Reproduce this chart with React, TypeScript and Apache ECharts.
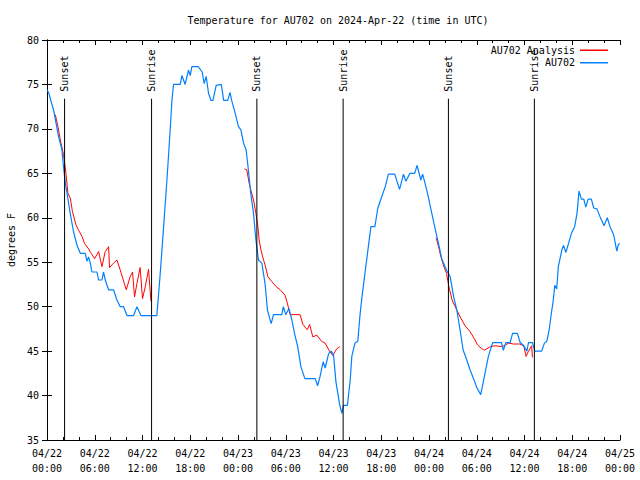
import React, { useEffect, useRef } from "react";
import * as echarts from "echarts";

// Hours since 2024-04-22 00:00 UTC and temperatures (F)
const obsHours = [0.0, 0.2, 0.83, 1.46, 1.88, 2.08, 2.3, 2.51, 2.92, 3.34, 3.77, 4.18, 4.81, 5.02, 5.22, 5.44, 5.65, 6.28, 6.48, 6.9, 7.1, 7.32, 7.74, 8.36, 8.79, 9.2, 9.62, 10.05, 10.88, 11.3, 11.8, 13.8, 14.2, 14.6, 15.07, 15.48, 15.7, 15.9, 16.74, 16.95, 17.36, 17.78, 18.0, 18.2, 19.0, 19.5, 19.75, 20.0, 20.3, 20.6, 20.85, 21.26, 21.9, 22.2, 22.7, 23.0, 23.2, 23.65, 24.06, 24.36, 24.7, 25.03, 25.3, 25.6, 25.95, 26.25, 26.57, 27.0, 27.4, 27.7, 28.17, 28.46, 29.5, 29.7, 30.0, 30.4, 30.77, 31.1, 31.5, 31.9, 32.4, 33.7, 34.0, 34.3, 34.7, 34.95, 35.4, 35.7, 36.0, 36.3, 36.75, 37.05, 37.25, 37.75, 38.1, 38.3, 38.7, 39.05, 39.35, 39.63, 40.06, 40.4, 40.7, 41.2, 41.57, 42.07, 42.5, 42.9, 43.7, 44.3, 44.8, 45.1, 45.6, 46.2, 46.5, 46.97, 47.2, 47.5, 47.9, 48.35, 48.76, 49.2, 49.6, 50.2, 50.65, 51.1, 51.5, 51.9, 52.3, 52.75, 53.15, 53.6, 54.0, 54.5, 54.95, 55.46, 56.0, 57.1, 57.35, 57.65, 58.2, 58.5, 59.1, 59.44, 59.9, 60.3, 60.5, 61.0, 61.3, 62.16, 62.5, 62.8, 63.1, 63.4, 63.6, 63.8, 64.05, 64.25, 64.7, 64.9, 65.2, 65.5, 65.9, 66.3, 66.6, 66.85, 67.15, 67.45, 67.7, 68.0, 68.4, 68.7, 69.1, 69.5, 70.0, 70.4, 70.75, 71.2, 71.6, 71.8, 72.0];
const obsTemps = [74.4, 74.1, 72.1, 69.1, 67.6, 65.7, 63.9, 62.8, 60.5, 58.4, 56.9, 56.0, 56.0, 55.1, 55.6, 54.9, 53.9, 53.9, 53.0, 53.0, 53.9, 53.0, 51.9, 51.9, 50.75, 50.0, 50.0, 49.0, 49.0, 50.0, 49.0, 49.0, 53.4, 58.3, 64.25, 69.9, 73.25, 75.0, 75.0, 76.0, 75.0, 76.6, 76.0, 77.0, 77.0, 76.4, 75.1, 75.9, 74.0, 73.2, 73.2, 74.9, 75.0, 73.2, 73.2, 74.1, 73.2, 71.75, 70.25, 69.9, 68.4, 67.6, 65.4, 62.75, 60.5, 57.5, 55.25, 54.9, 52.6, 49.6, 48.1, 49.1, 49.1, 50.0, 49.1, 49.8, 48.5, 47.0, 45.5, 43.25, 41.9, 41.9, 41.1, 42.1, 43.8, 43.1, 44.75, 45.0, 44.6, 41.6, 39.1, 38.0, 38.9, 38.9, 41.75, 44.4, 45.9, 46.1, 49.25, 51.5, 54.5, 56.9, 59.0, 59.0, 61.1, 62.4, 63.5, 64.9, 64.9, 63.2, 64.9, 64.1, 65.0, 65.0, 65.9, 64.25, 64.9, 63.9, 62.4, 60.5, 58.8, 57.1, 55.4, 54.1, 53.4, 51.1, 49.6, 47.4, 45.1, 44.0, 42.9, 41.9, 40.9, 40.1, 42.1, 44.4, 45.95, 45.95, 45.1, 45.95, 45.95, 47.0, 47.0, 46.0, 45.6, 45.0, 45.95, 45.95, 45.0, 45.0, 45.9, 46.1, 47.4, 49.4, 50.6, 52.4, 52.0, 54.5, 56.4, 56.9, 56.1, 57.0, 58.25, 59.0, 60.5, 63.0, 62.1, 62.1, 61.2, 62.1, 62.1, 61.1, 61.0, 60.1, 59.1, 60.0, 59.0, 58.1, 56.25, 57.0, 57.1];

// Analysis series (null = gap)
const anaHours = [1.04, 1.38, 1.67, 2.08, 2.38, 2.63, 2.93, 3.2, 3.64, 3.97, 4.4, 4.72, 5.15, 5.56, 5.98, 6.48, 6.9, 7.32, 7.74, 7.86, 8.36, 8.79, 9.33, 9.96, 10.46, 10.75, 11.0, 11.3, 11.7, 12.0, 12.35, 12.76, 13.06, 18.0, 24.8, 25.1, 25.4, 25.65, 25.95, 26.25, 26.5, 26.66, 26.88, 27.1, 27.4, 27.75, 28.26, 28.8, 29.3, 29.9, 30.2, 30.55, 31.8, 32.15, 32.7, 33.0, 33.4, 33.9, 34.5, 34.95, 35.5, 35.9, 36.4, 36.8, 42.0, 48.9, 49.2, 49.5, 49.8, 50.2, 50.5, 50.9, 51.5, 52.0, 52.5, 53.15, 53.7, 54.1, 54.6, 54.95, 55.7, 56.3, 57.2, 58.0, 58.6, 59.4, 59.9, 60.2, 60.5, 60.9, 61.0];
const anaTemps: (number | null)[] = [71.6, 70.25, 68.75, 67.1, 65.0, 62.75, 62.2, 60.7, 59.2, 58.6, 57.9, 57.1, 56.6, 56.0, 55.4, 56.2, 54.5, 56.2, 56.75, 54.4, 54.9, 55.25, 53.75, 51.9, 53.4, 53.9, 51.1, 52.6, 54.4, 50.9, 52.25, 54.2, 50.6, null, 65.5, 65.4, 63.9, 63.0, 62.0, 60.5, 59.0, 57.5, 56.4, 55.6, 54.7, 53.4, 52.8, 52.25, 51.9, 51.3, 50.4, 49.1, 49.1, 48.0, 47.4, 48.0, 46.6, 46.8, 46.1, 45.9, 45.0, 44.5, 45.25, 45.5, null, 57.75, 56.75, 55.6, 54.7, 53.75, 52.25, 50.75, 49.6, 48.7, 47.9, 47.2, 46.4, 45.7, 45.3, 45.1, 45.5, 45.6, 45.5, 45.9, 45.8, 45.8, 45.6, 44.4, 45.0, 45.6, 44.3];

const eventHours = [2.21, 13.14, 26.37, 37.21, 50.44, 61.24];
const eventLabels = ["Sunset", "Sunrise", "Sunset", "Sunrise", "Sunset", "Sunrise"];
const eventLineTop = 73.4;

const yMin = 35;
const yMax = 80;
const xMin = 0;
const xMax = 72;

const FONT = "DejaVu Sans Mono";

function xLabel(h: number): string {
  const day = 22 + Math.floor(h / 24);
  const hr = Math.round(h % 24);
  return "04/" + day + "\n" + (hr < 10 ? "0" + hr : "" + hr) + ":00";
}

export default function App() {
  const ref = useRef<HTMLDivElement>(null);
  useEffect(() => {
    if (!ref.current) return;
    const chart = echarts.init(ref.current, undefined, { renderer: "svg" });
    const axisLine = { show: true, lineStyle: { color: "#000", width: 1 } };
    const xCommon = {
      type: "value",
      min: xMin,
      max: xMax,
      interval: 6,
      axisLine,
      axisTick: { show: true, inside: true, length: 5, lineStyle: { color: "#000" } },
      minorTick: { show: true, splitNumber: 3, length: 3, lineStyle: { color: "#000" } },
      splitLine: { show: false },
      minorSplitLine: { show: false },
    };
    const yCommon = {
      type: "value",
      min: yMin,
      max: yMax,
      interval: 5,
      axisLine,
      axisTick: { show: true, inside: true, length: 5, lineStyle: { color: "#000" } },
      splitLine: { show: false },
    };
    chart.setOption({
      animation: false,
      backgroundColor: "#fff",
      title: {
        text: "Temperature for AU702 on 2024-Apr-22 (time in UTC)",
        left: 333,
        textAlign: "center",
        top: 10,
        textStyle: { fontFamily: FONT, fontSize: 10, fontWeight: "normal", color: "#000" },
      },
      grid: { left: 47, right: 20, top: 40, bottom: 40, containLabel: false, outerBoundsMode: "none" },
      legend: {
        data: ["AU702 Analysis", "AU702"],
        orient: "vertical",
        right: 27,
        top: 39,
        align: "right",
        icon: "rect",
        itemWidth: 28,
        itemHeight: 1.5,
        itemGap: 0,
        textStyle: { fontFamily: FONT, fontSize: 10, color: "#000", lineHeight: 12.5 },
      },
      xAxis: [
        {
          ...xCommon,
          position: "bottom",
          axisLabel: {
            show: true,
            formatter: (v: number) => xLabel(v),
            fontFamily: FONT,
            fontSize: 10,
            color: "#000",
            lineHeight: 15,
            margin: 6,
          },
        },
        {
          ...xCommon,
          position: "top",
          axisLabel: { show: false },
        },
      ],
      yAxis: [
        {
          ...yCommon,
          position: "left",
          name: "degrees F",
          nameLocation: "middle",
          nameGap: 31,
          nameRotate: 90,
          nameTextStyle: { fontFamily: FONT, fontSize: 10, color: "#000" },
          axisLabel: { show: true, fontFamily: FONT, fontSize: 10, color: "#000", margin: 8 },
        },
        {
          ...yCommon,
          position: "right",
          axisLabel: { show: false },
        },
      ],
      series: [
        {
          name: "AU702 Analysis",
          type: "line",
          data: anaHours.map((h, i) => [h, anaTemps[i]]),
          showSymbol: false,
          symbol: "none",
          connectNulls: false,
          lineStyle: { color: "#ff0000", width: 1 },
          itemStyle: { color: "#ff0000" },
        },
        {
          name: "AU702",
          type: "line",
          data: obsHours.map((h, i) => [h, obsTemps[i]]),
          showSymbol: false,
          symbol: "none",
          lineStyle: { color: "#0080ff", width: 1.2 },
          itemStyle: { color: "#0080ff" },
        },
        {
          name: "events",
          type: "custom",
          data: eventHours.map((h) => [h, eventLineTop]),
          renderItem: (params: any, api: any) => {
            const h = api.value(0);
            const top = api.coord([h, eventLineTop]);
            const bot = api.coord([h, yMin]);
            return {
              type: "group",
              children: [
                {
                  type: "line",
                  shape: { x1: top[0], y1: top[1], x2: bot[0], y2: bot[1] },
                  style: { stroke: "#000", lineWidth: 1 },
                },
                {
                  type: "text",
                  x: top[0],
                  y: top[1] - 7,
                  rotation: Math.PI / 2,
                  style: {
                    text: eventLabels[params.dataIndex],
                    fill: "#000",
                    fontFamily: FONT,
                    fontSize: 10,
                    align: "left",
                    verticalAlign: "middle",
                  },
                },
              ],
            };
          },
          z: 5,
        },
      ],
    });
    return () => chart.dispose();
  }, []);
  return (
    <div
      ref={ref}
      style={{ position: "fixed", left: 0, top: 0, width: 640, height: 480 }}
    />
  );
}
